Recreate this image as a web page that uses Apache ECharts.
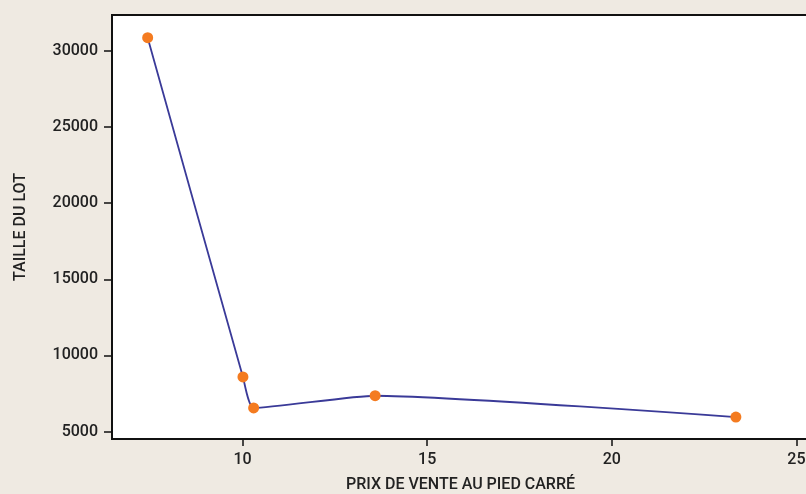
<!DOCTYPE html>
<html>
<head>
<meta charset="utf-8">
<script src="https://cdn.jsdelivr.net/npm/echarts@6/dist/echarts.min.js"></script>
<style>
  html, body { margin: 0; padding: 0; background: #efeae2; }
  #chart { width: 806px; height: 494px; }
</style>
</head>
<body>
<div id="chart"></div>
<script>
// prix de vente au pied carré / taille du lot
var prix = [7.43, 10.01, 10.30, 13.59, 23.36];
var taille = [30850, 8590, 6560, 7360, 5960];
var xTicks = [10, 15, 20, 25];
var yTicks = [5000, 10000, 15000, 20000, 25000, 30000];

var points = prix.map(function (p, i) { return [p, taille[i]]; });

var labelFont = {
    color: "#222",
    fontFamily: "Roboto",
    fontSize: 16,
    fontWeight: 500
};

var option = {
    backgroundColor: "#efeae2",
    animation: false,
    grid: {
        left: 112,
        right: -3,
        top: 15,
        bottom: 55,
        outerBoundsMode: "none",
        show: true,
        backgroundColor: "#fff",
        borderColor: "#111",
        borderWidth: 2
    },
    xAxis: {
        type: "value",
        min: 6.464,
        max: 25.34,
        name: "PRIX DE VENTE AU PIED CARRÉ",
        nameLocation: "middle",
        nameGap: 38,
        nameTextStyle: labelFont,
        splitLine: { show: false },
        axisLine: { lineStyle: { color: "#111", width: 2 } },
        axisTick: { customValues: xTicks, length: 7, lineStyle: { color: "#111", width: 1.5 } },
        axisLabel: Object.assign({ customValues: xTicks, margin: 13, formatter: "{value}" }, labelFont)
    },
    yAxis: {
        type: "value",
        min: 4521,
        max: 32341,
        name: "TAILLE DU LOT",
        nameLocation: "middle",
        nameGap: 83,
        nameTextStyle: labelFont,
        splitLine: { show: false },
        axisLine: { show: true, lineStyle: { color: "#111", width: 2 } },
        axisTick: { customValues: yTicks, length: 8, lineStyle: { color: "#111", width: 1.5 } },
        axisLabel: Object.assign({
            customValues: yTicks,
            margin: 14,
            formatter: function (v) { return String(v); }
        }, labelFont)
    },
    series: [{
        type: "line",
        data: points,
        smooth: 0.18,
        symbol: "circle",
        symbolSize: 11,
        lineStyle: { color: "#3a3a98", width: 1.8 },
        itemStyle: { color: "#f47b20" },
        z: 3
    }]
};

var chart = echarts.init(document.getElementById("chart"));
chart.setOption(option);
</script>
</body>
</html>
